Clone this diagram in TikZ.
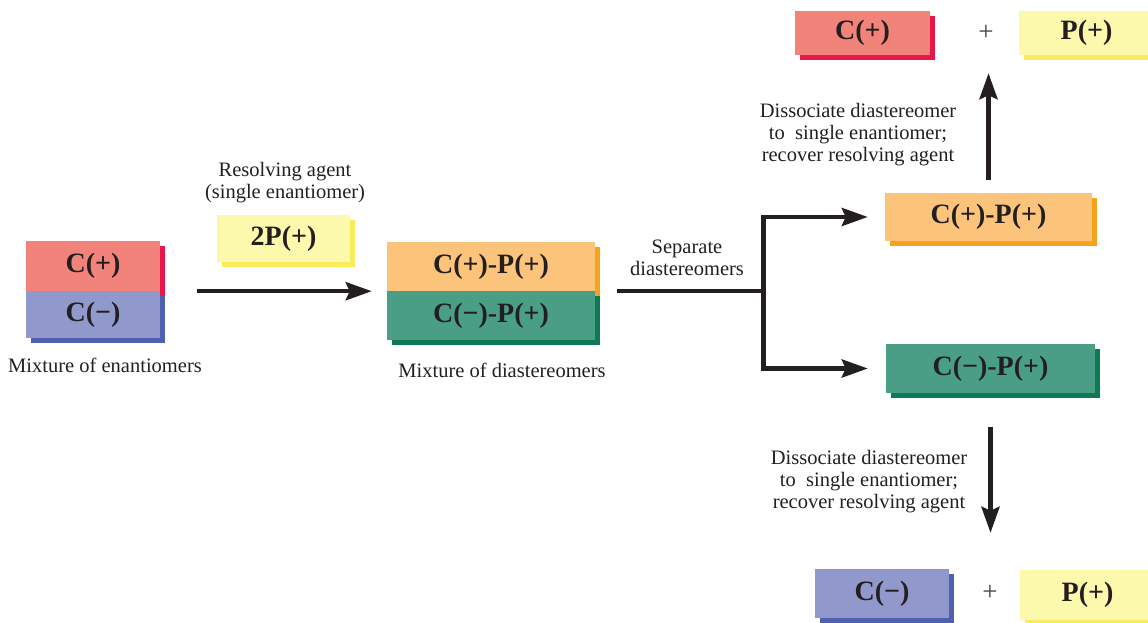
\documentclass[tikz,border=0pt]{standalone}
\usepackage{fontspec}
\setmainfont{Liberation Serif}
\usetikzlibrary{arrows.meta,shadows}

% box fills and their darker drop-shadow edges
\definecolor{redF}{HTML}{F2837B}
\definecolor{redS}{HTML}{E8164A}
\definecolor{blueF}{HTML}{9098CC}
\definecolor{blueS}{HTML}{5060B0}
\definecolor{orangeF}{HTML}{FCC47A}
\definecolor{orangeS}{HTML}{F7A21B}
\definecolor{greenF}{HTML}{4A9E86}
\definecolor{greenS}{HTML}{0C7A52}
\definecolor{yellowF}{HTML}{FCF8AC}
\definecolor{yellowS}{HTML}{F8EC5A}
\definecolor{ink}{HTML}{231F20}

\begin{document}
\begin{tikzpicture}[x=1pt,y=1pt,
  colorbox/.style 2 args={fill=#1, draw=none, inner sep=0pt,
    drop shadow={shadow xshift=5pt, shadow yshift=-5pt, fill=#2, opacity=1},
    text=ink, font=\fontsize{28}{30}\selectfont\bfseries},
  lbl/.style={inner sep=0pt, text=ink, font=\fontsize{20.5}{22}\selectfont},
  plussign/.style={inner sep=0pt, text=ink!85, font=\fontsize{27}{30}\selectfont},
  arr/.style={draw=ink, line width=4.6pt,
    -{Stealth[length=26pt, width=18pt, inset=4pt]}},
  plainline/.style={draw=ink, line width=4.6pt}
]
\useasboundingbox (0,0) rectangle (1148,622);

% mixture of enantiomers
\node[colorbox={redF}{redS}, minimum width=134pt, minimum height=50pt] (cplus) at (93,356) {C(+)};
\node[colorbox={blueF}{blueS}, minimum width=134pt, minimum height=47pt] (cminus) at (93,307.5) {C(−)};
\node[lbl] (mixE) at (105,257) {Mixture of enantiomers};

% resolving agent
\node[lbl, align=center] (agentLbl) at (285,439.5) {Resolving agent\\(single enantiomer)};
\node[colorbox={yellowF}{yellowS}, minimum width=133pt, minimum height=47pt] (agent) at (283.5,383.5) {2P(+)};

% mixture of diastereomers
\node[colorbox={orangeF}{orangeS}, minimum width=208pt, minimum height=49pt] (dA) at (491,355.5) {C(+)-P(+)};
\node[colorbox={greenF}{greenS}, minimum width=208pt, minimum height=49pt] (dB) at (491,306.5) {C(−)-P(+)};
\node[lbl] (mixD) at (502,252) {Mixture of diastereomers};

% separated diastereomers
\node[lbl, align=center] (sepLbl) at (687,364) {Separate\\diastereomers};
\node[colorbox={orangeF}{orangeS}, minimum width=207pt, minimum height=48pt] (rA) at (988.5,405) {C(+)-P(+)};
\node[colorbox={greenF}{greenS}, minimum width=209pt, minimum height=49pt] (rB) at (990.5,253.5) {C(−)-P(+)};

% products, upper branch
\node[colorbox={redF}{redS}, minimum width=135pt, minimum height=44pt] (ctop) at (862.5,589) {C(+)};
\node[plussign] (plusT) at (986,589) {+};
\node[colorbox={yellowF}{yellowS}, minimum width=135pt, minimum height=44pt] (ptop) at (1086.5,589) {P(+)};
\node[lbl, align=center] (dissA) at (858,487) {Dissociate diastereomer\\to\ \ single enantiomer;\\recover resolving agent};

% products, lower branch
\node[lbl, align=center] (dissB) at (869,140) {Dissociate diastereomer\\to\ \ single enantiomer;\\recover resolving agent};
\node[colorbox={blueF}{blueS}, minimum width=134pt, minimum height=49pt] (cbot) at (882,28.5) {C(−)};
\node[plussign] (plusB) at (990,29) {+};
\node[colorbox={yellowF}{yellowS}, minimum width=135pt, minimum height=50pt] (pbot) at (1087.5,27) {P(+)};

% connectors
\draw[arr] ([xshift=37pt]cplus.south east) -- ([xshift=-15pt]dA.south west);
\draw[plainline] ([xshift=22pt]dA.south east) -- ++(146pt,0) coordinate (split);
\draw[arr] (split) |- ([xshift=-17pt]rA.west);
\draw[arr] (split) |- ([xshift=-18pt]rB.west);
\draw[arr] ([yshift=13pt]rA.north) -- ([yshift=-18pt]rA.north |- ctop.south);
\draw[arr] ([yshift=-34pt]rB.south) -- ([yshift=36pt]rB.south |- cbot.north);
\end{tikzpicture}
\end{document}
